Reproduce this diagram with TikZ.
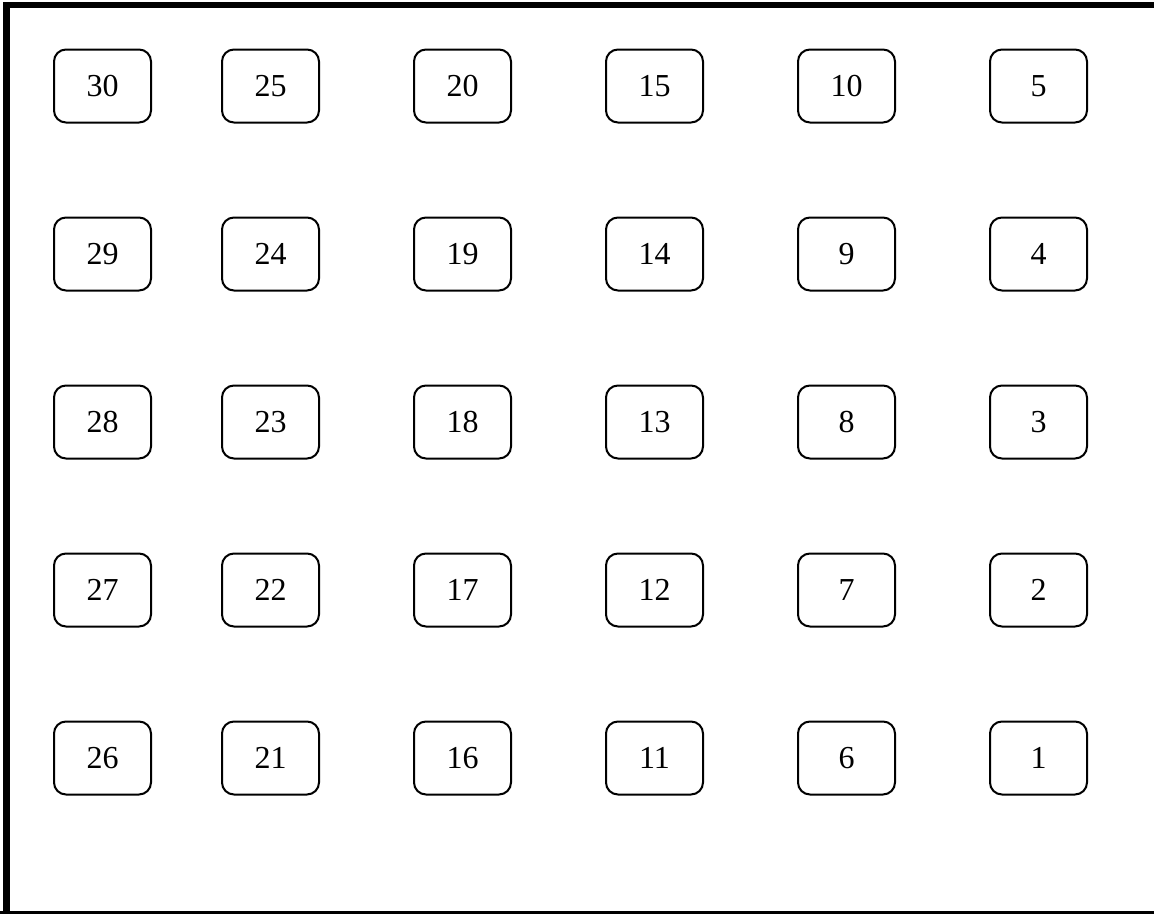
\documentclass[tikz,border=0pt]{standalone}
\usepackage{fontspec}
\setmainfont{Liberation Serif}
\usetikzlibrary{positioning}
\tikzset{
    cell/.style={draw, line width=1.5pt, rounded corners=9pt, align=center,
                 minimum width=72.75pt, minimum height=54.75pt, inner sep=0pt,
                 font=\fontsize{24}{28}\selectfont},
    frameL/.style={line width=5.25pt},
    frameT/.style={line width=4.5pt},
    frameB/.style={line width=2.25pt},
}
\begin{document}
\begin{tikzpicture}[x=0.75pt, y=-0.75pt]
\useasboundingbox (0,0) rectangle (1154,914);

% frame
\coordinate (fTL) at (6.5,5);
\coordinate (fBL) at (6.5,914);
\coordinate (fTR) at (1154,5);
\coordinate (bL) at (0,912.5);
\coordinate (bR) at (1154,912.5);
\draw[frameL] (fBL) -- (fTL);
\draw[frameT] (3,5) -- (fTR);
\draw[frameB] (bL) -- (bR);

% numbered cells
\foreach \col/\xx in {0/1038.5, 1/846.5, 2/654.5, 3/462.5, 4/270.5, 5/102.5}{%
    \foreach \row in {1,...,5}{%
        \pgfmathtruncatemacro{\num}{5*\col+\row}
        \node[cell] (n\num) at (\xx,{758-(\row-1)*168}) {\num};}}

\end{tikzpicture}
\end{document}
